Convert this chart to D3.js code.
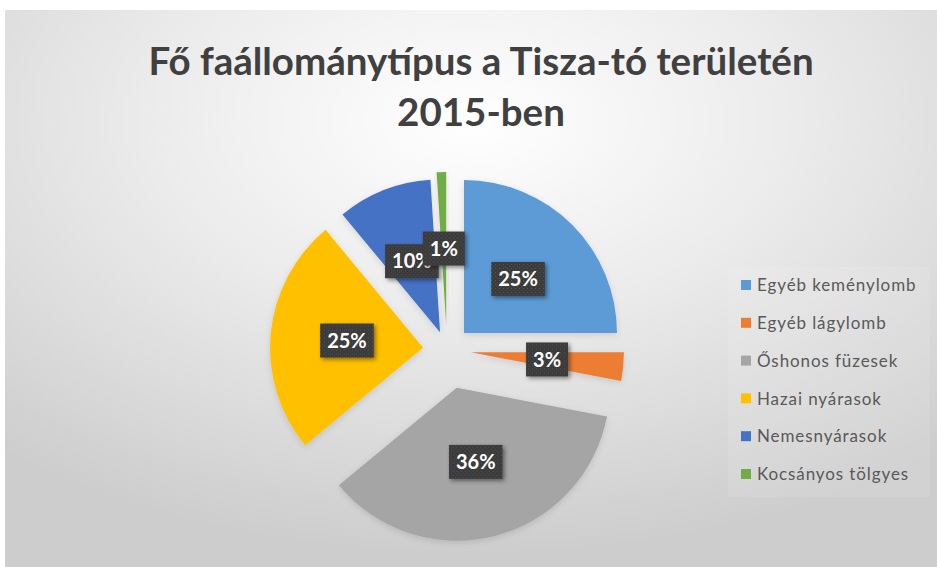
<!DOCTYPE html>
<html>
<head>
<meta charset="utf-8">
<script src="https://cdn.jsdelivr.net/npm/d3@7"></script>
<style>
  html, body { margin: 0; padding: 0; background: #ffffff; }
  svg { display: block; }
</style>
</head>
<body>
<svg id="chart" width="937" height="567"></svg>
<script>
// Forest stand types in the Tisza-tó area, 2015 (share of area, %)
const categories = [
  "Egyéb keménylomb",
  "Egyéb lágylomb",
  "Őshonos füzesek",
  "Hazai nyárasok",
  "Nemesnyárasok",
  "Kocsányos tölgyes"
];
const shares = [25, 3, 36, 25, 10, 1];
const titleLines = ["Fő faállománytípus a Tisza-tó területén", "2015-ben"];

// Office-style palette, one colour per category
const palette = ["#5B9BD5", "#ED7D31", "#A5A5A5", "#FFC000", "#4472C4", "#70AD47"];
// how far each slice is pulled out from the centre (px)
const explode = [24, 24, 39, 24, 19, 25];

const W = 937, H = 567;
const svg = d3.select("#chart");
const defs = svg.append("defs");

// chart area background: soft radial gradient
const bg = defs.append("radialGradient")
  .attr("id", "bgGrad")
  .attr("cx", 0.5).attr("cy", 0.2).attr("r", 0.78)
  .attr("fx", 0.5).attr("fy", 0.2);
bg.append("stop").attr("offset", "0%").attr("stop-color", "#ffffff");
bg.append("stop").attr("offset", "45%").attr("stop-color", "#ebebeb");
bg.append("stop").attr("offset", "100%").attr("stop-color", "#cdcdcd");

// dotted texture for the data label boxes
const pat = defs.append("pattern")
  .attr("id", "dots")
  .attr("patternUnits", "userSpaceOnUse")
  .attr("width", 4).attr("height", 4);
pat.append("rect").attr("width", 4).attr("height", 4).attr("fill", "#3b3b3b");
pat.append("rect").attr("x", 1).attr("y", 1).attr("width", 1).attr("height", 1).attr("fill", "#555555");
pat.append("rect").attr("x", 3).attr("y", 3).attr("width", 1).attr("height", 1).attr("fill", "#4a4a4a");

const shadow = defs.append("filter").attr("id", "boxShadow")
  .attr("x", "-30%").attr("y", "-30%").attr("width", "170%").attr("height", "170%");
shadow.append("feDropShadow")
  .attr("dx", 2).attr("dy", 2).attr("stdDeviation", 2)
  .attr("flood-color", "#000").attr("flood-opacity", 0.45);

const sliceShadow = defs.append("filter").attr("id", "sliceShadow")
  .attr("x", "-20%").attr("y", "-20%").attr("width", "140%").attr("height", "140%");
sliceShadow.append("feDropShadow")
  .attr("dx", 0).attr("dy", 2).attr("stdDeviation", 3)
  .attr("flood-color", "#000").attr("flood-opacity", 0.12);

svg.append("rect")
  .attr("x", 5).attr("y", 10)
  .attr("width", W - 5).attr("height", H - 10)
  .attr("fill", "url(#bgGrad)");

// title
const title = svg.append("text")
  .attr("text-anchor", "middle")
  .attr("font-family", "Lato, 'Open Sans', sans-serif")
  .attr("font-weight", 700)
  .attr("font-size", 38.5)
  .attr("fill", "#404040");
title.selectAll("tspan").data(titleLines).join("tspan")
  .attr("x", 481)
  .attr("y", (d, i) => 75 + i * 51)
  .text(d => d);

// pie
const cx = 447, cy = 350, radius = 153;
const pie = d3.pie().sort(null).value(d => d.value);
const arc = d3.arc().innerRadius(0).outerRadius(radius);
const data = categories.map((c, i) => ({ name: c, value: shares[i], i }));
const arcs = pie(data);

function offset(a) {
  const mid = (a.startAngle + a.endAngle) / 2;
  const d = explode[a.index];
  return [Math.sin(mid) * d, -Math.cos(mid) * d];
}

const g = svg.append("g").attr("transform", `translate(${cx},${cy})`);

g.selectAll("path.slice").data(arcs).join("path")
  .attr("class", "slice")
  .attr("d", arc)
  .attr("transform", a => `translate(${offset(a)})`)
  .attr("fill", a => palette[a.index])
  .attr("filter", "url(#sliceShadow)");

// data labels
const labelFont = 20;
const labels = g.selectAll("g.lbl").data(arcs).join("g")
  .attr("class", "lbl")
  .attr("transform", a => {
    const [ox, oy] = offset(a);
    const [lx, ly] = arc.centroid(a);
    return `translate(${lx + ox},${ly + oy})`;
  });

labels.each(function (a) {
  const sel = d3.select(this);
  const txt = sel.append("text")
    .attr("text-anchor", "middle")
    .attr("dy", "0.36em")
    .attr("font-family", "Lato, 'Open Sans', sans-serif")
    .attr("font-weight", 700)
    .attr("font-size", labelFont)
    .attr("fill", "#ffffff")
    .text(d3.format(".0f")(a.data.value) + "%");
  const w = txt.node().getComputedTextLength() + 14;
  const h = 34;
  sel.insert("rect", "text")
    .attr("x", -w / 2).attr("y", -h / 2)
    .attr("width", w).attr("height", h)
    .attr("fill", "url(#dots)")
    .attr("filter", "url(#boxShadow)");
});

// legend
const legend = svg.append("g");
legend.append("rect")
  .attr("x", 728).attr("y", 267)
  .attr("width", 202).attr("height", 230)
  .attr("fill", "#ffffff").attr("fill-opacity", 0.1);

const rows = legend.selectAll("g.row").data(categories).join("g")
  .attr("class", "row")
  .attr("transform", (d, i) => `translate(741,${285 + i * 37.8})`);
rows.append("rect")
  .attr("x", 0).attr("y", -5)
  .attr("width", 10).attr("height", 10)
  .attr("fill", (d, i) => palette[i]);
rows.append("text")
  .attr("x", 16).attr("dy", "0.36em")
  .attr("font-family", "Lato, 'Open Sans', sans-serif")
  .attr("font-size", 17)
  .attr("letter-spacing", 0.9)
  .attr("fill", "#595959")
  .text(d => d);
</script>
</body>
</html>
